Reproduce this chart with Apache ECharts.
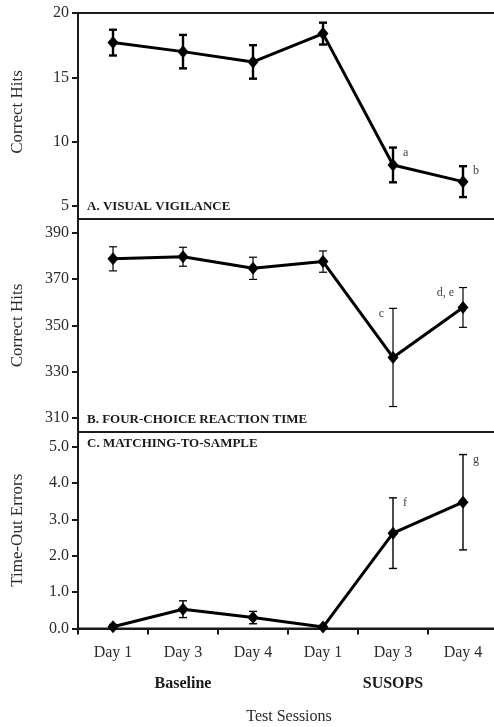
<!DOCTYPE html>
<html>
<head>
<meta charset="utf-8">
<script src="https://cdn.jsdelivr.net/npm/echarts@6/dist/echarts.min.js"></script>
<style>
html,body{margin:0;padding:0;background:#fff;}
#chart{width:494px;height:727px;}
</style>
</head>
<body>
<div id="chart"></div>
<script>
// ---- data ----
const categories = ['Day 1', 'Day 3', 'Day 4', 'Day 1', 'Day 3', 'Day 4'];
const groupLabels = ['Baseline', 'SUSOPS'];
const xAxisTitle = 'Test Sessions';

const visMean  = [17.7, 17.0, 16.2, 18.4, 8.2, 6.9];
const visErr   = [1.0, 1.3, 1.3, 0.85, 1.35, 1.2];
const visNotes = ['', '', '', '', 'a', 'b'];
const visTicks = [5, 10, 15, 20];

const fcMean  = [378.8, 379.7, 374.7, 377.6, 336.2, 357.8];
const fcErr   = [5.2, 4.1, 4.8, 4.6, 21.2, 8.6];
const fcNotes = ['', '', '', '', 'c', 'd, e'];
const fcTicks = [310, 330, 350, 370, 390];

const mtsMean  = [0.05, 0.53, 0.30, 0.04, 2.62, 3.47];
const mtsErr   = [0.06, 0.23, 0.17, 0.05, 0.97, 1.31];
const mtsNotes = ['', '', '', '', 'f', 'g'];
const mtsTicks = [0, 1, 2, 3, 4, 5];

const panelTitles = ['A. VISUAL VIGILANCE', 'B. FOUR-CHOICE REACTION TIME', 'C. MATCHING-TO-SAMPLE'];
const yNames = ['Correct Hits', 'Correct Hits', 'Time-Out Errors'];

// ---- layout / style ----
const FONT = '"Liberation Serif", "DejaVu Serif", serif';
const INK = '#1a1a1a';
const TXT = '#2b2b2b';

const panels = [
  { mean: visMean, err: visErr, notes: visNotes, ticks: visTicks, min: 4, max: 20,
    top: 13, height: 206, barW: 2.4, noteSide: 'right', namePad: [0, 0, 0, 8], fmt: v => String(v) },
  { mean: fcMean, err: fcErr, notes: fcNotes, ticks: fcTicks, min: 304, max: 396,
    top: 219, height: 213, barW: 1.2, noteSide: 'left', namePad: 0, fmt: v => String(v) },
  { mean: mtsMean, err: mtsErr, notes: mtsNotes, ticks: mtsTicks, min: 0, max: 5.4,
    top: 432, height: 196.5, barW: 1.4, noteSide: 'right', namePad: 0, fmt: v => Number(v).toFixed(1) }
];

const GRID_LEFT = 78, GRID_W = 420;

const grid = [], xAxis = [], yAxis = [], series = [];
panels.forEach((p, k) => {
  grid.push({ left: GRID_LEFT, top: p.top, width: GRID_W, height: p.height,
    outerBoundsMode: 'none', containLabel: false,
    show: true, borderColor: INK, borderWidth: 2, backgroundColor: 'transparent' });
  const isLast = k === panels.length - 1;
  xAxis.push({
    type: 'category', gridIndex: k, data: categories, boundaryGap: true,
    show: isLast,
    axisLine: { show: true, lineStyle: { color: INK, width: 2 } },
    axisTick: { show: true, alignWithLabel: false, length: 6, lineStyle: { color: INK, width: 2 } },
    axisLabel: { show: isLast, fontFamily: FONT, fontSize: 16, color: TXT, margin: 16 }
  });
  yAxis.push({
    type: 'value', gridIndex: k, min: p.min, max: p.max,
    name: yNames[k], nameLocation: 'middle', nameRotate: 90, nameGap: 52,
    nameTextStyle: { fontFamily: FONT, fontSize: 17, color: TXT, padding: p.namePad },
    axisLine: { show: true, lineStyle: { color: INK, width: 2 } },
    axisTick: { show: true, length: 6, customValues: p.ticks, lineStyle: { color: INK, width: 2 } },
    axisLabel: { show: true, customValues: p.ticks, formatter: p.fmt,
      fontFamily: FONT, fontSize: 16, color: TXT, margin: 9 },
    splitLine: { show: false }
  });

  // error bars + annotations
  const ebData = p.mean.map((m, i) => [i, m - p.err[i], m + p.err[i]]);
  series.push({
    type: 'custom', xAxisIndex: k, yAxisIndex: k, z: 2,
    data: ebData,
    renderItem: function (params, api) {
      const i = api.value(0);
      const lo = api.coord([i, api.value(1)]);
      const hi = api.coord([i, api.value(2)]);
      const cap = 4;
      const style = { stroke: '#000', lineWidth: p.barW, fill: null };
      const children = [
        { type: 'line', shape: { x1: hi[0], y1: hi[1], x2: lo[0], y2: lo[1] }, style },
        { type: 'line', shape: { x1: hi[0] - cap, y1: hi[1], x2: hi[0] + cap, y2: hi[1] }, style },
        { type: 'line', shape: { x1: lo[0] - cap, y1: lo[1], x2: lo[0] + cap, y2: lo[1] }, style }
      ];
      const note = p.notes[params.dataIndex];
      if (note) {
        const right = p.noteSide === 'right';
        children.push({
          type: 'text',
          style: {
            text: note, x: hi[0] + (right ? 10 : -9), y: hi[1] + 5,
            align: right ? 'left' : 'right', verticalAlign: 'middle',
            fontFamily: FONT, fontSize: 12, fill: '#444'
          }
        });
      }
      return { type: 'group', children };
    }
  });

  series.push({
    type: 'line', xAxisIndex: k, yAxisIndex: k, z: 3,
    data: p.mean,
    symbol: 'diamond', symbolSize: [11, 13],
    lineStyle: { color: '#000', width: 3 },
    itemStyle: { color: '#000' },
    emphasis: { disabled: true },
    animation: false
  });
});

const graphic = [
  { type: 'text', left: 87, top: 200, style: { text: panelTitles[0], font: 'bold 13px ' + FONT, fill: INK } },
  { type: 'text', left: 87, top: 413, style: { text: panelTitles[1], font: 'bold 13px ' + FONT, fill: INK } },
  { type: 'text', left: 87, top: 437, style: { text: panelTitles[2], font: 'bold 13px ' + FONT, fill: INK } },
  { type: 'text', x: 183, y: 684, style: { text: groupLabels[0], font: 'bold 16px ' + FONT, fill: INK, align: 'center', verticalAlign: 'middle' } },
  { type: 'text', x: 393, y: 684, style: { text: groupLabels[1], font: 'bold 16px ' + FONT, fill: INK, align: 'center', verticalAlign: 'middle' } },
  { type: 'text', x: 289, y: 717, style: { text: xAxisTitle, font: '16px ' + FONT, fill: TXT, align: 'center', verticalAlign: 'middle' } }
];

const chart = echarts.init(document.getElementById('chart'), null, { renderer: 'canvas' });
chart.setOption({
  backgroundColor: '#fff',
  animation: false,
  grid, xAxis, yAxis, series, graphic
});
</script>
</body>
</html>
